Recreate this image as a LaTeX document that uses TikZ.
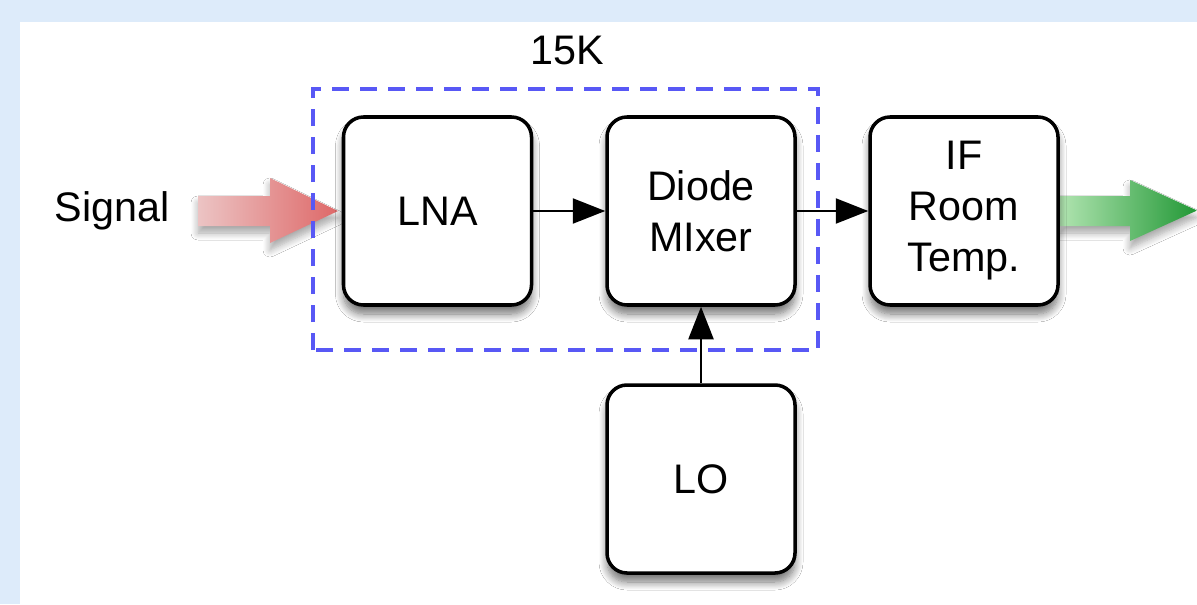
\documentclass[tikz,border=0pt]{standalone}
\usepackage{fontspec}
\setmainfont{Liberation Sans}
\usetikzlibrary{arrows.meta,shadows.blur}

\definecolor{framebg}{RGB}{221,235,250}
\definecolor{dashblue}{RGB}{88,88,245}
\definecolor{sigpale}{RGB}{236,196,196}
\definecolor{sigred}{RGB}{222,104,104}
\definecolor{outpale}{RGB}{176,228,176}
\definecolor{outgreen}{RGB}{34,152,54}

\tikzset{
	block/.style={draw, line width=2pt, rounded corners=0.4cm, fill=white,
		minimum width=3.76cm, minimum height=3.76cm, align=center,
		font=\fontsize{23.5}{29}\selectfont,
		blur shadow={shadow xshift=0pt, shadow yshift=-0.18cm,
			shadow blur radius=0.16cm, shadow blur steps=10, shadow opacity=55}},
	link/.style={line width=1.3pt, black,
		-{Triangle[length=0.65cm,width=0.5cm,fill=black]}},
	bigarrow/.style={blur shadow={shadow xshift=0pt, shadow yshift=-0.14cm,
			shadow blur radius=0.14cm, shadow blur steps=8, shadow opacity=35}},
}

\begin{document}
\begin{tikzpicture}
	\useasboundingbox (0,0) rectangle (23.94,12.08);
	% frame
	\fill[framebg] (0,0) rectangle (23.94,12.08);
	\fill[white] (0.4,0) rectangle (23.94,11.64);

	\node[font=\fontsize{23.5}{29}\selectfont] (signal) at (2.24,7.86) {Signal};
	\node[font=\fontsize{23.5}{29}\selectfont] (temp) at (11.34,11.08) {15K};

	% incoming and outgoing signal
	\shade[bigarrow, left color=sigpale, right color=sigred]
		(3.96,7.56) -- (5.4,7.56) -- (5.4,7.22) -- (6.76,7.86)
		-- (5.4,8.52) -- (5.4,8.16) -- (3.96,8.16) -- cycle;
	\shade[bigarrow, left color=outpale, right color=outgreen]
		(21.2,7.56) -- (22.6,7.56) -- (22.6,7.26) -- (23.94,7.87)
		-- (22.6,8.48) -- (22.6,8.16) -- (21.2,8.16) -- cycle;

	\node[block] (lna) at (8.75,7.86) {LNA};
	\node[block] (mixer) at (14.02,7.86) {Diode\\MIxer};
	\node[block] (ifamp) at (19.28,7.86) {IF\\Room\\Temp.};
	\node[block] (lo) at (14.02,2.50) {LO};

	\draw[link] (lna) -- (mixer);
	\draw[link] (mixer) -- (ifamp);
	\draw[link] (lo) -- (mixer);

	% cold stage
	\draw[dashblue, line width=2.1pt, dash pattern=on 0.34cm off 0.22cm]
		(6.26,5.08) rectangle (16.36,10.30);
\end{tikzpicture}
\end{document}
